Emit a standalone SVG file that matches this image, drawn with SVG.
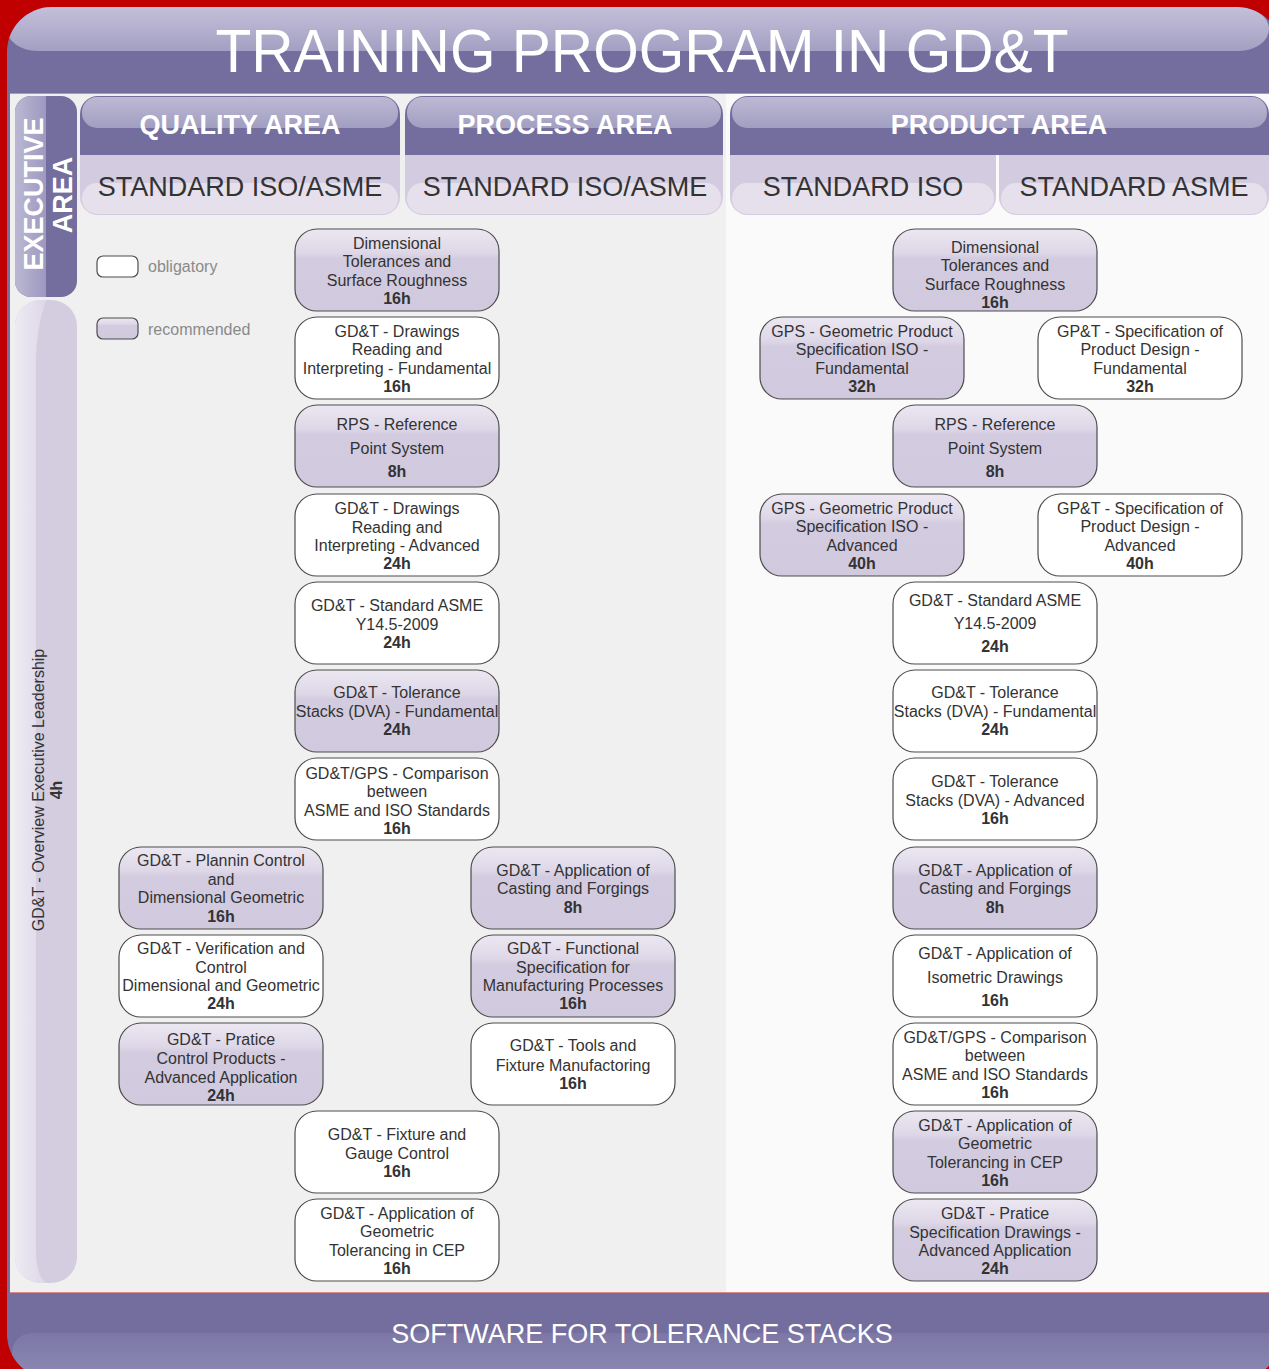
<svg xmlns="http://www.w3.org/2000/svg" width="1269" height="1369" viewBox="0 0 1269 1369">
<defs>
<linearGradient id="gTop" x1="0" y1="0" x2="0" y2="1"><stop offset="0" stop-color="#c4c0da"/><stop offset="1" stop-color="#a39fc2"/></linearGradient>
<linearGradient id="gHdr" x1="0" y1="0" x2="0" y2="1"><stop offset="0" stop-color="#bdb9d4"/><stop offset="1" stop-color="#a29ec1"/></linearGradient>
<linearGradient id="gBot" x1="0" y1="0" x2="0" y2="1"><stop offset="0" stop-color="#7c77a6"/><stop offset="1" stop-color="#9a96bd"/></linearGradient>
<linearGradient id="gRec" x1="0" y1="0" x2="0" y2="1"><stop offset="0" stop-color="#ece8f2"/><stop offset="0.3" stop-color="#ddd6e7"/><stop offset="0.36" stop-color="#d3cbdf"/><stop offset="1" stop-color="#d1c9de"/></linearGradient>
<linearGradient id="gExec" x1="0" y1="0" x2="1" y2="0"><stop offset="0" stop-color="#bcb8d3"/><stop offset="1" stop-color="#9d98bf"/></linearGradient>
<linearGradient id="gLead" x1="0" y1="0" x2="1" y2="0"><stop offset="0" stop-color="#eeebf3"/><stop offset="1" stop-color="#ddd7e7"/></linearGradient>
<clipPath id="frameClip"><rect x="7" y="7" width="1275" height="1372" rx="45"/></clipPath>
</defs>
<style>
.nt{font-family:"Liberation Sans",Arial,sans-serif;font-size:16px;fill:#333;text-anchor:middle}
.nt .h{font-weight:bold}
.rec{fill:url(#gRec);stroke:#4d4d4d;stroke-width:1.2}
.obl{fill:#fff;stroke:#4d4d4d;stroke-width:1.2}
.hw{font-family:"Liberation Sans",Arial,sans-serif;font-size:27px;font-weight:bold;fill:#fff;text-anchor:middle}
.hs{font-family:"Liberation Sans",Arial,sans-serif;font-size:27px;fill:#333;text-anchor:middle}
.purple{fill:#736e9e}
.lav{fill:#d3cbdf}
.lav2{fill:#e5e0ec}
.gloss{fill:url(#gHdr)}
.leg{font-family:"Liberation Sans",Arial,sans-serif;font-size:16px;fill:#8a8a8a}
</style>
<rect x="0" y="0" width="1269" height="1369" fill="#c00000"/>
<rect x="7" y="7" width="1275" height="1372" rx="45" class="purple"/>
<g clip-path="url(#frameClip)">
<rect x="7" y="7" width="1262" height="44" rx="30" fill="url(#gTop)"/>
<rect x="12" y="1333" width="1300" height="80" rx="20" fill="url(#gBot)"/>
</g>
<text x="642" y="72" font-family="Liberation Sans, Arial, sans-serif" font-size="62" fill="#fff" text-anchor="middle" textLength="853" lengthAdjust="spacingAndGlyphs">TRAINING PROGRAM IN GD&amp;T</text>
<rect x="10" y="93" width="1259" height="1200" fill="#d88"/>
<rect x="10" y="94" width="716" height="1198" fill="#f0f0f0"/>
<rect x="726" y="94" width="543" height="1198" fill="#fafafa"/>
<text x="642" y="1343" font-family="Liberation Sans, Arial, sans-serif" font-size="27" fill="#fff" text-anchor="middle">SOFTWARE FOR TOLERANCE STACKS</text>
<g id="executive-area">
<rect x="15" y="96" width="62" height="201" rx="16" class="purple"/>
<path d="M31 96 H46 V297 H31 A16 16 0 0 1 15 281 V112 A16 16 0 0 1 31 96 Z" fill="url(#gExec)"/>
<text transform="translate(43,194) rotate(-90)" class="hw">EXECUTIVE</text>
<text transform="translate(72,195) rotate(-90)" class="hw">AREA</text>
</g>
<g id="executive-leadership">
<rect x="15" y="300" width="62" height="983" rx="26" fill="#d4cde0"/>
<path d="M41 300 H46 Q36 330 36 360 V1250 Q36 1275 46 1283 H41 A26 26 0 0 1 15 1257 V326 A26 26 0 0 1 41 300 Z" fill="url(#gLead)"/>
<text transform="translate(44,790) rotate(-90)" class="nt">GD&amp;T - Overview Executive Leadership</text>
<text transform="translate(62,790) rotate(-90)" class="nt" font-weight="bold">4h</text>
</g>
<g id="quality-header">
<path d="M98 96 H382 A18 18 0 0 1 400 114 V155 H80 V114 A18 18 0 0 1 98 96 Z" class="purple"/>
<rect x="82" y="97" width="316" height="31" rx="15" class="gloss"/>
<path d="M80 155 H400 V197 A18 18 0 0 1 382 215 H98 A18 18 0 0 1 80 197 Z" class="lav"/>
<rect x="82" y="183" width="316" height="31" rx="15" class="lav2"/>
<text x="240" y="134" class="hw">QUALITY AREA</text>
<text x="240" y="196" class="hs">STANDARD ISO/ASME</text>
</g>
<g id="process-header">
<path d="M423 96 H705 A18 18 0 0 1 723 114 V155 H405 V114 A18 18 0 0 1 423 96 Z" class="purple"/>
<rect x="407" y="97" width="314" height="31" rx="15" class="gloss"/>
<path d="M405 155 H723 V197 A18 18 0 0 1 705 215 H423 A18 18 0 0 1 405 197 Z" class="lav"/>
<rect x="407" y="183" width="314" height="31" rx="15" class="lav2"/>
<text x="565" y="134" class="hw">PROCESS AREA</text>
<text x="565" y="196" class="hs">STANDARD ISO/ASME</text>
</g>
<g id="product-header">
<path d="M748 96 H1251 A18 18 0 0 1 1269 114 V155 H730 V114 A18 18 0 0 1 748 96 Z" class="purple"/>
<rect x="732" y="97" width="535" height="31" rx="15" class="gloss"/>
<text x="999" y="134" class="hw">PRODUCT AREA</text>
<path d="M730 155 H996 V197 A18 18 0 0 1 978 215 H748 A18 18 0 0 1 730 197 Z" class="lav"/>
<rect x="732" y="183" width="262" height="31" rx="15" class="lav2"/>
<path d="M999 155 H1269 V197 A18 18 0 0 1 1251 215 H1017 A18 18 0 0 1 999 197 Z" class="lav"/>
<rect x="1001" y="183" width="266" height="31" rx="15" class="lav2"/>
<text x="863" y="196" class="hs">STANDARD ISO</text>
<text x="1134" y="196" class="hs">STANDARD ASME</text>
</g>
<g id="legend">
<rect x="97" y="256" width="41" height="21" rx="6" class="obl"/>
<text x="148" y="272" class="leg">obligatory</text>
<rect x="97" y="318" width="41" height="21" rx="6" class="rec"/>
<text x="148" y="335" class="leg">recommended</text>
</g>
<g id="connectors"></g>
<g id="q1"><rect x="295" y="229" width="204" height="82" rx="22" class="rec"/><text class="nt"><tspan x="397" y="249">Dimensional</tspan><tspan x="397" y="267">Tolerances and</tspan><tspan x="397" y="286">Surface Roughness</tspan><tspan x="397" y="304" class="h">16h</tspan></text></g>
<g id="q2"><rect x="295" y="317" width="204" height="82" rx="22" class="obl"/><text class="nt"><tspan x="397" y="337">GD&amp;T - Drawings</tspan><tspan x="397" y="355">Reading and</tspan><tspan x="397" y="374">Interpreting - Fundamental</tspan><tspan x="397" y="392" class="h">16h</tspan></text></g>
<g id="q3"><rect x="295" y="405" width="204" height="82" rx="22" class="rec"/><text class="nt"><tspan x="397" y="430">RPS - Reference</tspan><tspan x="397" y="454">Point System</tspan><tspan x="397" y="477" class="h">8h</tspan></text></g>
<g id="q4"><rect x="295" y="494" width="204" height="82" rx="22" class="obl"/><text class="nt"><tspan x="397" y="514">GD&amp;T - Drawings</tspan><tspan x="397" y="533">Reading and</tspan><tspan x="397" y="551">Interpreting - Advanced</tspan><tspan x="397" y="569" class="h">24h</tspan></text></g>
<g id="q5"><rect x="295" y="582" width="204" height="82" rx="22" class="obl"/><text class="nt"><tspan x="397" y="611">GD&amp;T - Standard ASME</tspan><tspan x="397" y="630">Y14.5-2009</tspan><tspan x="397" y="648" class="h">24h</tspan></text></g>
<g id="q6"><rect x="295" y="670" width="204" height="82" rx="22" class="rec"/><text class="nt"><tspan x="397" y="698">GD&amp;T - Tolerance</tspan><tspan x="397" y="717">Stacks (DVA) - Fundamental</tspan><tspan x="397" y="735" class="h">24h</tspan></text></g>
<g id="q7"><rect x="295" y="758" width="204" height="82" rx="22" class="obl"/><text class="nt"><tspan x="397" y="779">GD&amp;T/GPS - Comparison</tspan><tspan x="397" y="797">between</tspan><tspan x="397" y="816">ASME and ISO Standards</tspan><tspan x="397" y="834" class="h">16h</tspan></text></g>
<g id="q8"><rect x="119" y="847" width="204" height="82" rx="22" class="rec"/><text class="nt"><tspan x="221" y="866">GD&amp;T - Plannin Control</tspan><tspan x="221" y="885">and</tspan><tspan x="221" y="903">Dimensional Geometric</tspan><tspan x="221" y="922" class="h">16h</tspan></text></g>
<g id="q9"><rect x="119" y="935" width="204" height="82" rx="22" class="obl"/><text class="nt"><tspan x="221" y="954">GD&amp;T - Verification and</tspan><tspan x="221" y="973">Control</tspan><tspan x="221" y="991">Dimensional and Geometric</tspan><tspan x="221" y="1009" class="h">24h</tspan></text></g>
<g id="q10"><rect x="119" y="1023" width="204" height="82" rx="22" class="rec"/><text class="nt"><tspan x="221" y="1045">GD&amp;T - Pratice</tspan><tspan x="221" y="1064">Control Products -</tspan><tspan x="221" y="1083">Advanced Application</tspan><tspan x="221" y="1101" class="h">24h</tspan></text></g>
<g id="p8"><rect x="471" y="847" width="204" height="82" rx="22" class="rec"/><text class="nt"><tspan x="573" y="876">GD&amp;T - Application of</tspan><tspan x="573" y="894">Casting and Forgings</tspan><tspan x="573" y="913" class="h">8h</tspan></text></g>
<g id="p9"><rect x="471" y="935" width="204" height="82" rx="22" class="rec"/><text class="nt"><tspan x="573" y="954">GD&amp;T - Functional</tspan><tspan x="573" y="973">Specification for</tspan><tspan x="573" y="991">Manufacturing Processes</tspan><tspan x="573" y="1009" class="h">16h</tspan></text></g>
<g id="p10"><rect x="471" y="1023" width="204" height="82" rx="22" class="obl"/><text class="nt"><tspan x="573" y="1051">GD&amp;T - Tools and</tspan><tspan x="573" y="1071">Fixture Manufactoring</tspan><tspan x="573" y="1089" class="h">16h</tspan></text></g>
<g id="q11"><rect x="295" y="1111" width="204" height="82" rx="22" class="obl"/><text class="nt"><tspan x="397" y="1140">GD&amp;T - Fixture and</tspan><tspan x="397" y="1159">Gauge Control</tspan><tspan x="397" y="1177" class="h">16h</tspan></text></g>
<g id="q12"><rect x="295" y="1199" width="204" height="82" rx="22" class="obl"/><text class="nt"><tspan x="397" y="1219">GD&amp;T - Application of</tspan><tspan x="397" y="1237">Geometric</tspan><tspan x="397" y="1256">Tolerancing in CEP</tspan><tspan x="397" y="1274" class="h">16h</tspan></text></g>
<g id="r1"><rect x="893" y="229" width="204" height="82" rx="22" class="rec"/><text class="nt"><tspan x="995" y="253">Dimensional</tspan><tspan x="995" y="271">Tolerances and</tspan><tspan x="995" y="290">Surface Roughness</tspan><tspan x="995" y="308" class="h">16h</tspan></text></g>
<g id="r2a"><rect x="760" y="317" width="204" height="82" rx="22" class="rec"/><text class="nt"><tspan x="862" y="337">GPS - Geometric Product</tspan><tspan x="862" y="355">Specification ISO -</tspan><tspan x="862" y="374">Fundamental</tspan><tspan x="862" y="392" class="h">32h</tspan></text></g>
<g id="r2b"><rect x="1038" y="317" width="204" height="82" rx="22" class="obl"/><text class="nt"><tspan x="1140" y="337">GP&amp;T - Specification of</tspan><tspan x="1140" y="355">Product Design -</tspan><tspan x="1140" y="374">Fundamental</tspan><tspan x="1140" y="392" class="h">32h</tspan></text></g>
<g id="r3"><rect x="893" y="405" width="204" height="82" rx="22" class="rec"/><text class="nt"><tspan x="995" y="430">RPS - Reference</tspan><tspan x="995" y="454">Point System</tspan><tspan x="995" y="477" class="h">8h</tspan></text></g>
<g id="r4a"><rect x="760" y="494" width="204" height="82" rx="22" class="rec"/><text class="nt"><tspan x="862" y="514">GPS - Geometric Product</tspan><tspan x="862" y="532">Specification ISO -</tspan><tspan x="862" y="551">Advanced</tspan><tspan x="862" y="569" class="h">40h</tspan></text></g>
<g id="r4b"><rect x="1038" y="494" width="204" height="82" rx="22" class="obl"/><text class="nt"><tspan x="1140" y="514">GP&amp;T - Specification of</tspan><tspan x="1140" y="532">Product Design -</tspan><tspan x="1140" y="551">Advanced</tspan><tspan x="1140" y="569" class="h">40h</tspan></text></g>
<g id="r5"><rect x="893" y="582" width="204" height="82" rx="22" class="obl"/><text class="nt"><tspan x="995" y="606">GD&amp;T - Standard ASME</tspan><tspan x="995" y="629">Y14.5-2009</tspan><tspan x="995" y="652" class="h">24h</tspan></text></g>
<g id="r6"><rect x="893" y="670" width="204" height="82" rx="22" class="obl"/><text class="nt"><tspan x="995" y="698">GD&amp;T - Tolerance</tspan><tspan x="995" y="717">Stacks (DVA) - Fundamental</tspan><tspan x="995" y="735" class="h">24h</tspan></text></g>
<g id="r7"><rect x="893" y="758" width="204" height="82" rx="22" class="obl"/><text class="nt"><tspan x="995" y="787">GD&amp;T - Tolerance</tspan><tspan x="995" y="806">Stacks (DVA) - Advanced</tspan><tspan x="995" y="824" class="h">16h</tspan></text></g>
<g id="r8"><rect x="893" y="847" width="204" height="82" rx="22" class="rec"/><text class="nt"><tspan x="995" y="876">GD&amp;T - Application of</tspan><tspan x="995" y="894">Casting and Forgings</tspan><tspan x="995" y="913" class="h">8h</tspan></text></g>
<g id="r9"><rect x="893" y="935" width="204" height="82" rx="22" class="obl"/><text class="nt"><tspan x="995" y="959">GD&amp;T - Application of</tspan><tspan x="995" y="983">Isometric Drawings</tspan><tspan x="995" y="1006" class="h">16h</tspan></text></g>
<g id="r10"><rect x="893" y="1023" width="204" height="82" rx="22" class="obl"/><text class="nt"><tspan x="995" y="1043">GD&amp;T/GPS - Comparison</tspan><tspan x="995" y="1061">between</tspan><tspan x="995" y="1080">ASME and ISO Standards</tspan><tspan x="995" y="1098" class="h">16h</tspan></text></g>
<g id="r11"><rect x="893" y="1111" width="204" height="82" rx="22" class="rec"/><text class="nt"><tspan x="995" y="1131">GD&amp;T - Application of</tspan><tspan x="995" y="1149">Geometric</tspan><tspan x="995" y="1168">Tolerancing in CEP</tspan><tspan x="995" y="1186" class="h">16h</tspan></text></g>
<g id="r12"><rect x="893" y="1199" width="204" height="82" rx="22" class="rec"/><text class="nt"><tspan x="995" y="1219">GD&amp;T - Pratice</tspan><tspan x="995" y="1238">Specification Drawings -</tspan><tspan x="995" y="1256">Advanced Application</tspan><tspan x="995" y="1274" class="h">24h</tspan></text></g>
</svg>
